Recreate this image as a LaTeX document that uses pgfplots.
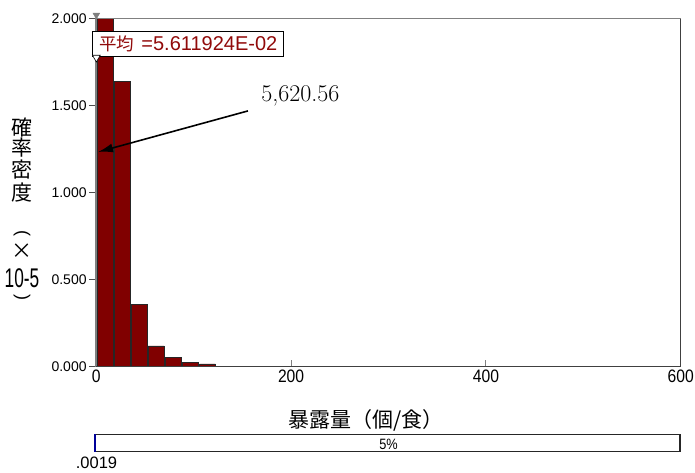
\documentclass[border=0pt]{standalone}
\usepackage{fontspec}
\newfontfamily\arial{Liberation Sans}
\newfontfamily\jp{Noto Sans CJK JP}
\usepackage{graphicx}
\usepackage{pgfplots}
\pgfplotsset{compat=1.18}
\usetikzlibrary{arrows.meta}
\definecolor{barred}{RGB}{128,0,0}
\definecolor{labred}{RGB}{145,10,10}

\begin{document}
\begin{tikzpicture}
\useasboundingbox (-96.3bp,-106.3bp) rectangle (598.7bp,366.7bp);
\begin{axis}[
  at={(0,0)}, anchor=south west,
  scale only axis, width=584.4bp, height=348bp,
  xmin=0, xmax=600, ymin=0, ymax=2,
  clip=false,
  axis line style={draw=none},
  xtick={0,200,400,600},
  xticklabels={\scalebox{0.87}[1]{0},\scalebox{0.87}[1]{200},\scalebox{0.87}[1]{400},\scalebox{0.87}[1]{600}},
  ytick={0,0.5,1,1.5,2},
  yticklabels={0.000,0.500,1.000,1.500,2.000},
  xtick pos=bottom, ytick pos=left,
  xtick align=inside, ytick align=outside,
  major tick length=7bp,
  x tick style={draw=gray, line width=1bp},
  y tick style={draw=black!70, line width=0.8bp},
  yticklabel style={font={\arial\fontsize{14bp}{14bp}\selectfont}, inner xsep=2.5bp},
  xticklabel style={font={\arial\fontsize{18bp}{18bp}\selectfont}},
]
\addplot[ybar, bar width=16.4, bar shift=0, fill=barred, draw=black!85, line width=0.6bp]
  coordinates {(8.78,2.0) (26.33,1.638) (43.88,0.359) (61.43,0.119) (78.98,0.052) (96.53,0.025) (114.08,0.016)};
\draw[gray, line width=1.6bp] (rel axis cs:0,0) -- (rel axis cs:0,1) -- (rel axis cs:1,1);
\draw[black!75, line width=1.2bp] (rel axis cs:1,1) -- (rel axis cs:1,0) -- (rel axis cs:0,0);
\addplot[only marks, mark=triangle*, mark size=4bp, mark options={rotate=180, fill=gray, draw=gray}] coordinates {(0.0561,2.021)};
\node[draw=black, line width=0.8bp, fill=white, anchor=west, inner xsep=6.5bp, minimum height=25bp, text=labred] at (axis cs:-4.1,1.857) {{\jp\fontsize{17.5bp}{17.5bp}\selectfont 平均}\,{\arial\fontsize{20bp}{20bp}\selectfont\ =5.611924E-02}};
\addplot[only marks, mark=triangle*, mark size=4.5bp, mark options={rotate=180, fill=white, draw=black, line width=0.6bp}] coordinates {(0.0561,1.777)};
\draw[line width=1.6bp, -{Latex[length=15bp,width=9bp]}] (axis cs:155.7,1.470) -- (axis cs:1.75,1.234);
\node[anchor=base, font={\fontsize{24bp}{24bp}\selectfont}] at (axis cs:209.6,1.527) {5,620.56};
\end{axis}
% y label (vertical)
\begin{scope}[every node/.style={font={\jp\fontsize{21bp}{21bp}\selectfont}, inner sep=0pt}]
\node at (-74.3bp,239.2bp) {確};
\node at (-74.3bp,218.7bp) {率};
\node at (-74.3bp,196.7bp) {密};
\node at (-74.3bp,174.2bp) {度};
\node[rotate=-90, font={\arial\fontsize{18bp}{18bp}\selectfont}] at (-74.3bp,133.5bp) {(};
\node at (-74.3bp,115.7bp) {×};
\node at (-74.3bp,88.7bp) {\scalebox{0.64}[1]{\arial\fontsize{27bp}{27bp}\selectfont 10-5}};
\node[rotate=-90, font={\arial\fontsize{18bp}{18bp}\selectfont}] at (-74.3bp,69.5bp) {)};
\end{scope}
\node[font={\jp\fontsize{21bp}{21bp}\selectfont}] at (269.7bp,-53.5bp) {暴露量（個/食）};
\draw[black!85, line width=1.2bp] (-1.3bp,-67.6bp) rectangle (583.7bp,-85bp);
\draw[blue!60!black, line width=1.5bp] (-1.3bp,-67.6bp) -- (-1.3bp,-85bp);
\node at (292.2bp,-77.5bp) {\scalebox{0.85}[1]{\arial\fontsize{15bp}{15bp}\selectfont 5\%}};
\node at (0.2bp,-96.3bp) {\arial\fontsize{16.5bp}{16.5bp}\selectfont .0019};
\end{tikzpicture}
\end{document}
